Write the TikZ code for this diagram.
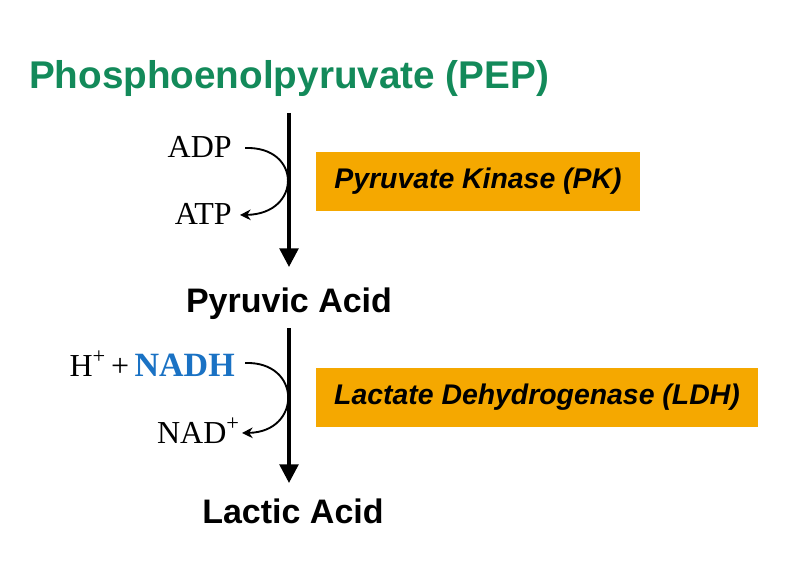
\documentclass[tikz,border=0pt]{standalone}
\usepackage{fontspec}
\setmainfont{Liberation Serif}
\setsansfont{Liberation Sans}
\usepackage{xcolor}
\usepackage{tikz}
\usetikzlibrary{arrows.meta,positioning}
\definecolor{PepGreen}{HTML}{138A5A}
\definecolor{EnzOrange}{HTML}{F5A800}
\definecolor{NadBlue}{HTML}{1A72C4}

\begin{document}
\begin{tikzpicture}[
    x=0.75pt, y=-0.75pt,
    compound/.style={font=\sffamily\bfseries\fontsize{25.5}{30}\selectfont, inner sep=0pt, anchor=base},
    enzyme/.style={rectangle, fill=EnzOrange, font=\sffamily\bfseries\itshape\fontsize{21.3}{24}\selectfont, minimum height=44.25pt, inner sep=0pt},
    cofactor/.style={font=\fontsize{24}{28}\selectfont, inner sep=0pt, anchor=base east},
    mainarrow/.style={-{Triangle[length=14pt,width=14pt]}, line width=2.7pt},
    sidearrow/.style={-{Stealth[length=8pt,width=8pt]}, line width=1.4pt}
]
\useasboundingbox (0,0) rectangle (799,570);

\node[compound, text=PepGreen, font=\sffamily\bfseries\fontsize{29}{34}\selectfont] (pep) at (289,89) {Phosphoenolpyruvate (PEP)};
\node[compound] (pyr) at (289,312) {Pyruvic Acid};
\node[compound] (lac) at (293,523) {Lactic Acid};

\node[enzyme, minimum width=243pt] (pk) at (478,181.5) {Pyruvate Kinase (PK)};
\node[enzyme, minimum width=331.5pt] (ldh) at (537,397.5) {Lactate Dehydrogenase (LDH)};

\node[cofactor] (adp) at (232,158) {ADP};
\node[cofactor] (atp) at (232,225) {ATP};
\node[cofactor] (nadh) at (235,376) {H\textsuperscript{+}\,+\,\textcolor{NadBlue}{\fontsize{25.5}{28}\selectfont\textbf{NADH}}};
\node[cofactor] (nad) at (240,443) {NAD\textsuperscript{+}};

\coordinate (top1) at (289,113);
\coordinate (bot1) at (289,267);
\coordinate (top2) at (289,328);
\coordinate (bot2) at (289,483);
\coordinate (adpout) at (245,148);
\coordinate (atpin) at (240,215);
\coordinate (nadhin) at (245,363);
\coordinate (nadout) at (242,433);

\draw[mainarrow] (top1) -- (bot1);
\draw[mainarrow] (top2) -- (bot2);

\draw[sidearrow] (adpout) .. controls (302,146) and (302,214) .. (atpin);
\draw[sidearrow] (nadhin) .. controls (302,361) and (302,432) .. (nadout);
\end{tikzpicture}
\end{document}
